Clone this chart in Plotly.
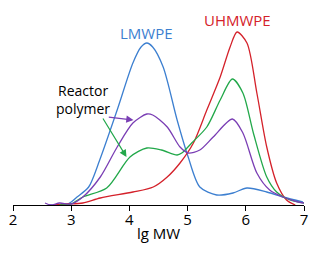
import plotly.graph_objects as go

# Blue: LMWPE
lm_x = [2.6, 2.9, 3.0, 3.1, 3.3, 3.49, 3.79, 4.06, 4.2, 4.30, 4.4, 4.58, 4.82, 5.01, 5.21, 5.5, 5.78, 6.02, 6.36, 6.64, 6.98]
lm_y = [0, 0, 3, 8, 18, 45, 95, 142, 158, 162, 158, 138, 85, 48, 18, 10, 12, 17, 13, 8, 3]

# Red: UHMWPE
uh_x = [2.7, 2.9, 3.2, 3.5, 4.06, 4.41, 4.65, 4.87, 5.1, 5.33, 5.56, 5.73, 5.85, 6.02, 6.19, 6.36, 6.53, 6.7, 6.85]
uh_y = [0, 1, 2, 7, 13, 18, 28, 42, 62, 95, 128, 158, 173, 162, 112, 58, 22, 5, 0]

# Green: reactor polymer (1)
g_x = [2.8, 3.0, 3.2, 3.61, 4.01, 4.3, 4.55, 4.82, 4.9, 5.07, 5.33, 5.56, 5.77, 5.95, 6.13, 6.36, 6.53, 6.76, 7.0]
g_y = [0, 1, 8, 17, 48, 57, 55, 50, 52, 62, 78, 105, 126, 112, 72, 28, 13, 5, 2]

# Purple: reactor polymer (2)
p_x = [2.55, 2.65, 2.8, 3.0, 3.2, 3.5, 3.79, 4.06, 4.3, 4.4, 4.65, 4.87, 5.01, 5.21, 5.44, 5.77, 5.95, 6.19, 6.41, 6.64, 6.9, 7.0]
p_y = [2, 0, 2, 1, 8, 28, 58, 82, 91, 90, 78, 58, 52, 55, 68, 86, 72, 32, 15, 8, 3, 2]

x_ticks = [2, 3, 4, 5, 6, 7]

fig = go.Figure()
for xs, ys, c in [(lm_x, lm_y, "#3c7fd0"), (uh_x, uh_y, "#d4212a"),
                  (g_x, g_y, "#22a84a"), (p_x, p_y, "#7a3eb4")]:
    fig.add_trace(go.Scatter(x=xs, y=ys, mode="lines",
                             line=dict(color=c, width=1.3, shape="spline", smoothing=0.8),
                             showlegend=False, hoverinfo="skip"))

font = "Open Sans, Noto Sans, sans-serif"
fig.add_annotation(x=4.3, y=172, text="LMWPE", showarrow=False,
                   font=dict(color="#3c7fd0", size=15, family=font))
fig.add_annotation(x=5.85, y=185, text="UHMWPE", showarrow=False,
                   font=dict(color="#d4212a", size=15, family=font))
fig.add_annotation(x=3.2, y=106, text="Reactor<br>polymer", showarrow=False,
                   font=dict(color="black", size=14, family=font), align="center")
fig.add_annotation(x=4.07, y=85, ax=3.62, ay=88, axref="x", ayref="y", xref="x", yref="y",
                   text="", showarrow=True, arrowhead=2, arrowsize=1.2, arrowwidth=1.2,
                   arrowcolor="#7a3eb4")
fig.add_annotation(x=3.95, y=48, ax=3.53, ay=88, axref="x", ayref="y", xref="x", yref="y",
                   text="", showarrow=True, arrowhead=2, arrowsize=1.2, arrowwidth=1.2,
                   arrowcolor="#22a84a")

fig.update_layout(
    width=318, height=253,
    margin=dict(l=13, r=14, t=0, b=48),
    plot_bgcolor="white", paper_bgcolor="white",
    font=dict(family=font, color="black", size=14),
    xaxis=dict(range=[2, 7], tickvals=x_ticks, ticks="outside", ticklen=5, tickwidth=1,
               tickcolor="black", showline=True, linecolor="black", linewidth=1.2,
               showgrid=False, zeroline=False, ticklabelstandoff=-4,
               title=dict(text="lg MW", font=dict(size=15, family=font), standoff=0),
               tickfont=dict(size=15, family=font)),
    yaxis=dict(range=[0, 205], visible=False, showgrid=False, zeroline=False),
)
fig.write_html("out.html")
